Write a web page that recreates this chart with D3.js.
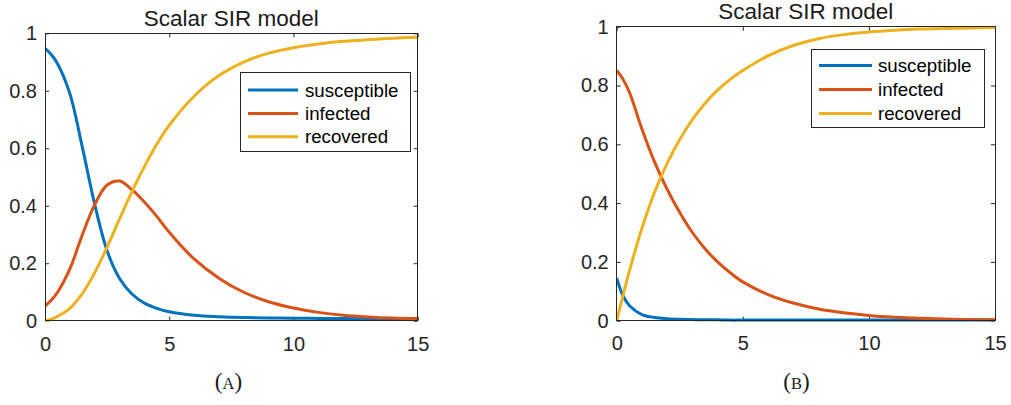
<!DOCTYPE html>
<html>
<head>
<meta charset="utf-8">
<script src="https://cdn.jsdelivr.net/npm/d3@7"></script>
<style>
    body { margin: 0; background: #fff; }
    svg text { font-family: "Liberation Sans", Arial, Helvetica, sans-serif; }
    .axis text { fill: #262626; font-size: 20px; }
    .axis line { stroke: #262626; }
    .title { fill: #1a1a1a; font-size: 22.5px; }
    .legend text { fill: #000; font-size: 18.7px; }
    .caption { font-family: "Liberation Serif", "DejaVu Serif", serif; fill: #1a1a1a; }
</style>
</head>
<body>
<svg id="chart"></svg>
<script>
// time points
var times = [0, 0.25, 0.5, 1, 1.5, 2, 2.5, 3, 3.5, 4, 4.5, 5, 6, 7, 8, 9, 10, 11, 12, 13, 14, 15];

// panel (A)
var susceptibleA = [0.948, 0.926, 0.895, 0.79, 0.605, 0.405, 0.243, 0.147, 0.093, 0.061, 0.043, 0.031, 0.019, 0.014, 0.011, 0.0095, 0.0085, 0.008, 0.0075, 0.007, 0.007, 0.007];
var infectedA    = [0.051, 0.071, 0.098, 0.18, 0.298, 0.404, 0.472, 0.486, 0.456, 0.413, 0.363, 0.308, 0.215, 0.148, 0.099, 0.066, 0.044, 0.029, 0.019, 0.013, 0.009, 0.007];
var recoveredA   = [0, 0.005, 0.015, 0.043, 0.094, 0.167, 0.256, 0.354, 0.449, 0.536, 0.614, 0.68, 0.781, 0.853, 0.9, 0.931, 0.95, 0.963, 0.972, 0.978, 0.983, 0.986];

// panel (B)
var susceptibleB = [0.145, 0.085, 0.052, 0.021, 0.011, 0.007, 0.005, 0.004, 0.003, 0.003, 0.002, 0.002, 0.002, 0.002, 0.002, 0.002, 0.002, 0.002, 0.002, 0.002, 0.002, 0.002];
var infectedB    = [0.851, 0.821, 0.778, 0.652, 0.54, 0.447, 0.368, 0.3, 0.245, 0.2, 0.163, 0.132, 0.089, 0.06, 0.04, 0.027, 0.018, 0.012, 0.008, 0.0055, 0.004, 0.003];
var recoveredB   = [0, 0.086, 0.168, 0.314, 0.437, 0.535, 0.616, 0.684, 0.739, 0.784, 0.821, 0.851, 0.901, 0.936, 0.959, 0.973, 0.982, 0.988, 0.992, 0.994, 0.996, 0.997];

var seriesNames = ["susceptible", "infected", "recovered"];
var xTicks = [0, 5, 10, 15];
var yTicks = [0, 0.2, 0.4, 0.6, 0.8, 1];
var titleText = "Scalar SIR model";

var colors = ["#0072BD", "#D95319", "#EDB120"];
var width = 1011;
var height = 405;

var svg = d3.select("#chart")
            .attr("width", width)
            .attr("height", height);

var drawPanel = function(opts) {
    var x = d3.scaleLinear().domain([0, 15]).range([opts.left, opts.right]);
    var y = d3.scaleLinear().domain([0, 1]).range([opts.bottom, opts.top]);
    var g = svg.append("g");

    // ticks on all four sides, pointing in
    g.append("g")
        .attr("class", "axis")
        .attr("transform", "translate(0," + opts.bottom + ")")
        .call(d3.axisBottom(x).tickValues(xTicks).tickSize(-4).tickPadding(opts.xPad).tickFormat(d3.format("")))
        .call(function(a) { a.select(".domain").remove(); });
    g.append("g")
        .attr("class", "axis")
        .attr("transform", "translate(0," + opts.top + ")")
        .call(d3.axisTop(x).tickValues(xTicks).tickSize(-4).tickFormat(""))
        .call(function(a) { a.select(".domain").remove(); });
    g.append("g")
        .attr("class", "axis")
        .attr("transform", "translate(" + opts.left + ",0)")
        .call(d3.axisLeft(y).tickValues(yTicks).tickSize(-4).tickPadding(8).tickFormat(d3.format("")))
        .call(function(a) { a.select(".domain").remove(); });
    g.append("g")
        .attr("class", "axis")
        .attr("transform", "translate(" + opts.right + ",0)")
        .call(d3.axisRight(y).tickValues(yTicks).tickSize(-4).tickFormat(""))
        .call(function(a) { a.select(".domain").remove(); });

    g.selectAll(".axis text").attr("font-size", null);

    var clipId = "clip" + opts.name;
    g.append("clipPath")
        .attr("id", clipId)
        .append("rect")
        .attr("x", opts.left)
        .attr("y", opts.top - 2)
        .attr("width", opts.right - opts.left)
        .attr("height", opts.bottom - opts.top + 4);

    var line = d3.line()
        .x(function(d) { return x(d[0]); })
        .y(function(d) { return y(d[1]); })
        .curve(d3.curveCatmullRom.alpha(0.5));

    g.selectAll("path.curve")
        .data(opts.series)
        .enter()
        .append("path")
        .attr("class", "curve")
        .attr("clip-path", "url(#" + clipId + ")")
        .attr("d", function(s) { return line(d3.zip(times, s)); })
        .attr("fill", "none")
        .attr("stroke", function(d, i) { return colors[i]; })
        .attr("stroke-width", 3)
        .attr("stroke-linejoin", "round");

    // axes box
    g.append("rect")
        .attr("x", opts.left)
        .attr("y", opts.top)
        .attr("width", opts.right - opts.left)
        .attr("height", opts.bottom - opts.top)
        .attr("fill", "none")
        .attr("stroke", "#262626")
        .attr("stroke-width", 1)
        .attr("shape-rendering", "crispEdges");

    g.append("text")
        .attr("class", "title")
        .attr("x", (opts.left + opts.right) / 2)
        .attr("y", opts.titleY)
        .attr("text-anchor", "middle")
        .text(titleText);

    // legend
    var lg = opts.legend;
    var legend = g.append("g").attr("class", "legend");
    legend.append("rect")
        .attr("x", lg.x)
        .attr("y", lg.y)
        .attr("width", lg.w)
        .attr("height", lg.h)
        .attr("fill", "#fff")
        .attr("stroke", "#262626")
        .attr("shape-rendering", "crispEdges");
    var rows = legend.selectAll("g.row")
        .data(seriesNames)
        .enter()
        .append("g")
        .attr("class", "row")
        .attr("transform", function(d, i) { return "translate(0," + (lg.firstRow + i * lg.rowStep) + ")"; });
    rows.append("line")
        .attr("x1", lg.lineX1)
        .attr("x2", lg.lineX2)
        .attr("stroke", function(d, i) { return colors[i]; })
        .attr("stroke-width", 3);
    rows.append("text")
        .attr("x", lg.textX)
        .attr("dy", "0.35em")
        .text(String);

    var cap = svg.append("text")
        .attr("class", "caption")
        .attr("x", opts.captionX)
        .attr("y", 388.5)
        .attr("text-anchor", "middle")
        .attr("font-size", 23);
    cap.append("tspan").text("(");
    cap.append("tspan").attr("font-size", 16.5).text(opts.name);
    cap.append("tspan").text(")");
};

drawPanel({
    name: "A",
    left: 45, right: 417.7, top: 33.3, bottom: 320.7,
    xPad: 16, titleY: 26,
    series: [susceptibleA, infectedA, recoveredA],
    legend: { x: 240, y: 72.7, w: 170, h: 79, firstRow: 90, rowStep: 23.4, lineX1: 248, lineX2: 298, textX: 305 },
    captionX: 228.5
});

drawPanel({
    name: "B",
    left: 616.7, right: 995, top: 26.7, bottom: 320.7,
    xPad: 15, titleY: 18.5,
    series: [susceptibleB, infectedB, recoveredB],
    legend: { x: 811.7, y: 49.3, w: 172.6, h: 78.4, firstRow: 65.5, rowStep: 24, lineX1: 819, lineX2: 872, textX: 878 },
    captionX: 796.5
});
</script>
</body>
</html>
